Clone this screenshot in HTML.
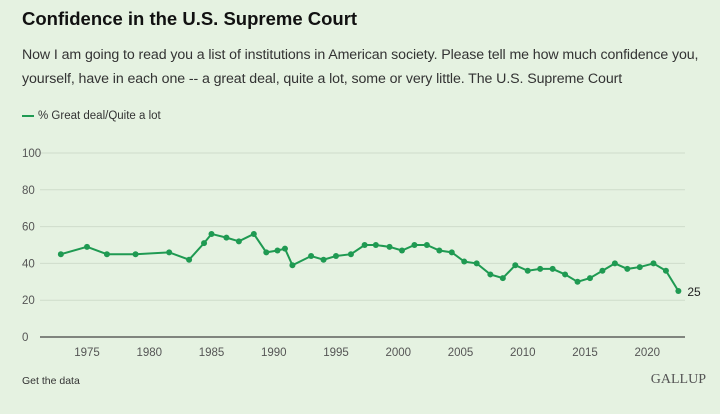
<!DOCTYPE html>
<html><head><meta charset="utf-8">
<style>
body{margin:0;width:720px;height:414px;background:#e5f2e1;font-family:"Liberation Sans",sans-serif;overflow:hidden;position:relative}
.t{position:absolute;left:22px;top:8px;font-size:18.5px;font-weight:bold;color:#111}
.s{position:absolute;left:22px;top:43px;width:698px;font-size:14.2px;line-height:24px;color:#333;letter-spacing:-0.1px}
.lg{position:absolute;left:22px;top:110px;font-size:11.5px;color:#333}
.lg span{display:inline-block;width:12px;height:2px;background:#1f9a52;vertical-align:middle;margin-right:4px}
.gd{position:absolute;left:22px;top:375px;font-size:10.5px;color:#333}
.gl{position:absolute;right:14px;top:372px;font-family:"Liberation Serif",serif;font-size:14px;color:#555}
svg{position:absolute;left:0;top:0}
</style></head><body>
<div class="t">Confidence in the U.S. Supreme Court</div>
<div class="s">Now I am going to read you a list of institutions in American society. Please tell me how much confidence you, yourself, have in each one -- a great deal, quite a lot, some or very little. The U.S. Supreme Court</div>
<div class="lg"><span></span>% Great deal/Quite a lot</div>
<svg id="c" width="720" height="414"></svg>
<div class="gd">Get the data</div>
<div class="gl">GALLUP</div>
<script>
const years=[1972.9,1975,1976.6,1978.9,1981.6,1983.2,1984.4,1985,1986.2,1987.2,1988.4,1989.4,1990.3,1990.9,1991.5,1993,1994,1995,1996.2,1997.3,1998.2,1999.3,2000.3,2001.3,2002.3,2003.3,2004.3,2005.3,2006.3,2007.4,2008.4,2009.4,2010.4,2011.4,2012.4,2013.4,2014.4,2015.4,2016.4,2017.4,2018.4,2019.4,2020.5,2021.5,2022.5];
const values=[45,49,45,45,46,42,51,56,54,52,56,46,47,48,39,44,42,44,45,50,50,49,47,50,50,47,46,41,40,34,32,39,36,37,37,34,30,32,36,40,37,38,40,36,25];
const yTicks=[0,20,40,60,80,100];
const xTicks=[1975,1980,1985,1990,1995,2000,2005,2010,2015,2020];
const NS="http://www.w3.org/2000/svg",svg=document.getElementById('c');
const X=y=>87+(y-1975)*12.45, Y=v=>337-v*1.84;
function mk(t,a,txt){const e=document.createElementNS(NS,t);for(const k in a)e.setAttribute(k,a[k]);if(txt!==undefined)e.textContent=txt;svg.appendChild(e);return e;}
yTicks.forEach(v=>{
 if(v>0){const l=mk('line',{x1:40,x2:685,y1:Y(v),y2:Y(v),stroke:'#cfdccb','stroke-width':1});
 
 }
 const t=mk('text',{x:22,y:Y(v)+4,'font-size':11.5,fill:'#555','font-family':'Liberation Sans'},v);
 
 
});
const ax=mk('line',{x1:40,x2:685,y1:337,y2:337,stroke:'#444','stroke-width':1.2});


xTicks.forEach(y=>{
 const t=mk('text',{x:X(y),y:356,'font-size':11.5,fill:'#555','text-anchor':'middle','font-family':'Liberation Sans'},y);
 
 
});
const p=mk('polyline',{points:years.map((y,i)=>X(y)+','+Y(values[i])).join(' '),fill:'none',stroke:'#1f9a52','stroke-width':2});


years.forEach((y,i)=>{
 const c=mk('circle',{cx:X(y),cy:Y(values[i]),r:3,fill:'#1f9a52'});
 
 
});
const n=years.length-1;
const lb=mk('text',{x:X(years[n])+9,y:Y(values[n])+5,'font-size':12,fill:'#222','font-family':'Liberation Sans'},values[n]);


</script>
</body></html>
